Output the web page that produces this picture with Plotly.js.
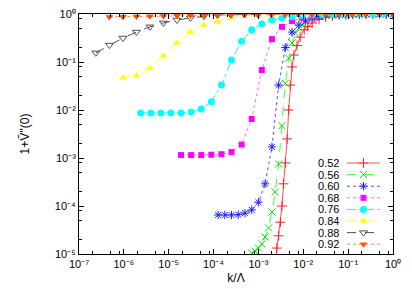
<!DOCTYPE html>
<html>
<head>
<meta charset="utf-8">
<script src="https://cdn.plot.ly/plotly-3.0.1.min.js"></script>
<style>html,body{margin:0;padding:0;background:#fff;}#chart{width:412px;height:289px;}</style>
</head>
<body>
<div id="chart"></div>
<script>
// ---- data ----
const k_052 = [2.34e-3, 2.57e-3, 2.82e-3, 3.09e-3, 3.35e-3, 3.63e-3, 3.98e-3, 4.37e-3, 4.73e-3, 5.13e-3, 5.62e-3, 6.17e-3, 7.24e-3, 8.51e-3, 1.05e-2, 1.26e-2, 1.58e-2, 2.24e-2, 3.16e-2, 4.47e-2, 6.31e-2, 8.91e-2, 0.126, 0.178, 0.251, 0.355, 0.501, 0.708, 1];
const v_052 = [6e-6, 1.33e-5, 2.4e-5, 4.6e-5, 1.0e-4, 2.9e-4, 7.9e-4, 2.5e-3, 0.010, 0.033, 0.079, 0.14, 0.22, 0.33, 0.47, 0.55, 0.65, 0.77, 0.86, 0.92, 0.955, 0.975, 0.985, 0.99, 0.995, 1, 1, 1, 1];

const k_056 = [7.08e-4, 8.41e-4, 1.0e-3, 1.19e-3, 1.41e-3, 1.68e-3, 2.0e-3, 2.37e-3, 2.82e-3, 3.35e-3, 3.98e-3, 4.73e-3, 5.62e-3, 6.68e-3, 7.94e-3, 9.44e-3, 1.12e-2, 1.58e-2, 2.24e-2, 3.16e-2, 4.47e-2, 6.31e-2, 8.91e-2, 0.126, 0.178, 0.251, 0.355, 0.501, 0.708, 1];
const v_056 = [1.05e-5, 1.15e-5, 1.33e-5, 1.62e-5, 2.25e-5, 3.5e-5, 7.5e-5, 1.95e-4, 7.5e-4, 4.7e-3, 0.036, 0.12, 0.25, 0.40, 0.51, 0.59, 0.68, 0.80, 0.88, 0.93, 0.96, 0.975, 0.985, 0.99, 0.995, 1, 1, 1, 1, 1];

const k_060 = [1.26e-4, 1.78e-4, 2.51e-4, 3.55e-4, 5.01e-4, 7.08e-4, 1.0e-3, 1.41e-3, 2.0e-3, 2.82e-3, 3.98e-3, 5.62e-3, 7.94e-3, 1.12e-2, 1.58e-2, 2.24e-2, 3.16e-2, 4.47e-2, 6.31e-2, 8.91e-2, 0.126, 0.178, 0.251, 0.355, 0.501, 0.708, 1];
const v_060 = [6.5e-5, 6.5e-5, 6.5e-5, 6.6e-5, 7.1e-5, 8.3e-5, 1.2e-4, 2.9e-4, 1.7e-3, 0.033, 0.20, 0.42, 0.59, 0.72, 0.82, 0.89, 0.93, 0.96, 0.975, 0.985, 0.99, 0.995, 1, 1, 1, 1, 1];

const k_068 = [1.88e-5, 3.16e-5, 5.31e-5, 8.91e-5, 1.50e-4, 2.51e-4, 4.22e-4, 7.08e-4, 1.19e-3, 2.0e-3, 3.35e-3, 5.62e-3, 9.44e-3, 1.58e-2, 2.66e-2, 4.47e-2, 7.5e-2, 0.126, 0.211, 0.355, 0.596, 1];
const v_068 = [1.15e-3, 1.15e-3, 1.15e-3, 1.17e-3, 1.2e-3, 1.33e-3, 1.9e-3, 6.5e-3, 0.068, 0.30, 0.54, 0.71, 0.83, 0.9, 0.95, 0.97, 0.985, 0.99, 0.995, 1, 1, 1];

const k_076 = [2.37e-6, 3.98e-6, 6.68e-6, 1.12e-5, 1.88e-5, 3.16e-5, 5.31e-5, 8.91e-5, 1.50e-4, 2.51e-4, 4.22e-4, 7.08e-4, 1.19e-3, 2.0e-3, 3.35e-3, 5.62e-3, 9.44e-3, 1.58e-2, 2.66e-2, 4.47e-2, 7.5e-2, 0.126, 0.211, 0.355, 0.596, 1];
const v_076 = [0.0087, 0.0087, 0.0087, 0.0087, 0.0087, 0.0091, 0.0105, 0.0148, 0.033, 0.11, 0.27, 0.47, 0.62, 0.75, 0.83, 0.88, 0.93, 0.96, 0.98, 0.99, 0.995, 1, 1, 1, 1, 1];

const k_084 = [9.54e-7, 1.91e-6, 3.81e-6, 7.63e-6, 1.53e-5, 3.05e-5, 6.10e-5, 1.22e-4, 2.44e-4, 4.88e-4, 9.77e-4, 1.95e-3, 3.91e-3, 7.81e-3, 1.56e-2, 3.13e-2, 6.25e-2, 0.125, 0.25, 0.5, 1];
const v_084 = [0.047, 0.052, 0.075, 0.133, 0.25, 0.42, 0.59, 0.68, 0.83, 0.9, 0.94, 0.97, 0.985, 0.99, 0.995, 1, 1, 1, 1, 1, 1];

const k_088 = [2.38e-7, 4.77e-7, 9.54e-7, 1.91e-6, 3.81e-6, 7.63e-6, 1.53e-5, 3.05e-5, 6.10e-5, 1.22e-4, 2.44e-4, 4.88e-4, 9.77e-4, 1.95e-3, 3.91e-3, 7.81e-3, 1.56e-2, 3.13e-2, 6.25e-2, 0.125, 0.25, 0.5, 1];
const v_088 = [0.155, 0.225, 0.316, 0.42, 0.54, 0.65, 0.75, 0.83, 0.9, 0.95, 0.97, 0.98, 0.99, 0.995, 1, 1, 1, 1, 1, 1, 1, 1, 1];

const k_092 = [4.77e-7, 9.54e-7, 1.91e-6, 3.81e-6, 7.63e-6, 1.53e-5, 3.05e-5, 6.10e-5, 1.22e-4, 2.44e-4, 4.88e-4, 9.77e-4, 1.95e-3, 3.91e-3, 7.81e-3, 1.56e-2, 3.13e-2, 6.25e-2, 0.125, 0.25, 0.5, 1];
const v_092 = [0.87, 0.88, 0.89, 0.9, 0.91, 0.92, 0.93, 0.94, 0.95, 0.96, 0.97, 0.98, 0.985, 0.99, 0.995, 1, 1, 1, 1, 1, 1, 1];

const seriesNames = ['0.52', '0.56', '0.60', '0.68', '0.76', '0.84', '0.88', '0.92'];

const xTickVals = [1e-7, 1e-6, 1e-5, 1e-4, 1e-3, 1e-2, 1e-1, 1];
const xTickText = ['10⁻⁷', '10⁻⁶', '10⁻⁵', '10⁻⁴', '10⁻³', '10⁻²', '10⁻¹', '10⁰'];
const yTickVals = [1e-5, 1e-4, 1e-3, 1e-2, 1e-1, 1];
const yTickText = ['10⁻⁵', '10⁻⁴', '10⁻³', '10⁻²', '10⁻¹', '10⁰'];
const minorMult = [2, 5, 8];

// ---- styling / layout constants ----
const FONT = 'Liberation Sans, Arial, Helvetica, sans-serif';
const W = 412, H = 289, ML = 79, MR = 19, MT = 14, MB = 35;
const PW = W - ML - MR, PH = H - MT - MB;
const LEG = {textRight: 341, lineX0: 347, lineX1: 380, top: 163, step: 11.6};
const px2x = p => (p - ML) / PW;
const px2y = p => (H - MB - p) / PH;

const styles = [
  {color: '#ff2020', lc: '#ff5050', dash: 'solid',   symbol: 'cross-thin-open',    size: 7, lw: 1},
  {color: '#00e000', lc: '#40ff40', dash: 'dash',    symbol: 'x-thin-open',        size: 7, lw: 1},
  {color: '#2020ff', lc: '#5050ff', dash: 'dot',     symbol: 'asterisk-open',      size: 7, lw: 1},
  {color: '#ff00ff', lc: '#ff60ff', dash: 'dot',     symbol: 'square',             size: 6, lw: 0},
  {color: '#00ffff', lc: '#40e0e0', dash: 'dashdot', symbol: 'circle',             size: 7, lw: 0},
  {color: '#ffff00', lc: '#ffff40', dash: 'dash',    symbol: 'triangle-up',        size: 7, lw: 0},
  {color: '#505050', lc: '#505050', dash: 'dash',    symbol: 'triangle-down-open', size: 7, lw: 1},
  {color: '#ff5000', lc: '#ff8050', dash: 'dot',     symbol: 'triangle-down',      size: 7, lw: 0}
];
const xs = [k_052, k_056, k_060, k_068, k_076, k_084, k_088, k_092];
const ys = [v_052, v_056, v_060, v_068, v_076, v_084, v_088, v_092];

const traces = xs.map((x, i) => {
  const s = styles[i];
  return {
    x: x, y: ys[i], name: seriesNames[i], type: 'scatter', mode: 'lines+markers',
    showlegend: false,
    line: {color: s.lc, width: 1, dash: s.dash},
    marker: {symbol: s.symbol, size: s.size, color: s.color, line: {color: s.color, width: s.lw}}
  };
});

// key (legend) drawn gnuplot-style: label, then line sample with marker
const shapes = [], annotations = [];
styles.forEach((s, i) => {
  const yy = px2y(LEG.top + i * LEG.step);
  shapes.push({type: 'line', xref: 'paper', yref: 'paper',
    x0: px2x(LEG.lineX0), x1: px2x(LEG.lineX1), y0: yy, y1: yy,
    line: {color: s.lc, width: 1, dash: s.dash}});
  annotations.push({xref: 'paper', yref: 'paper', x: px2x(LEG.textRight), y: yy,
    xanchor: 'right', yanchor: 'middle', showarrow: false, text: seriesNames[i],
    font: {family: FONT, size: 11, color: '#000'}});
  traces.push({x: [px2x((LEG.lineX0 + LEG.lineX1) / 2)], y: [yy], xaxis: 'x2', yaxis: 'y2',
    type: 'scatter', mode: 'markers', showlegend: false, hoverinfo: 'skip',
    marker: {symbol: s.symbol, size: s.size, color: s.color, line: {color: s.color, width: s.lw}}});
});

function minorVals(lo, hi) {
  const out = [];
  for (let e = lo; e < hi; e++) minorMult.forEach(m => out.push(m * Math.pow(10, e)));
  return out;
}

const axisCommon = {
  type: 'log', showgrid: false, zeroline: false, showline: true,
  linecolor: '#000', linewidth: 1, mirror: 'allticks',
  ticks: 'inside', ticklen: 5, tickcolor: '#000', tickwidth: 1,
  tickmode: 'array', tickfont: {family: FONT, size: 11, color: '#000'}
};

const layout = {
  width: W, height: H,
  margin: {l: ML, r: MR, t: MT, b: MB},
  paper_bgcolor: '#fff', plot_bgcolor: '#fff',
  font: {family: FONT, size: 11, color: '#000'},
  showlegend: false,
  xaxis: Object.assign({}, axisCommon, {
    range: [-7, 0], tickvals: xTickVals, ticktext: xTickText,
    minor: {tickmode: 'array', tickvals: minorVals(-7, 0), ticks: 'inside', ticklen: 3, tickcolor: '#000', showgrid: false},
    title: {text: 'k/Λ', font: {family: FONT, size: 12, color: '#000'}, standoff: 4}
  }),
  yaxis: Object.assign({}, axisCommon, {
    range: [-5, 0], tickvals: yTickVals, ticktext: yTickText,
    minor: {tickmode: 'array', tickvals: minorVals(-5, 0), ticks: 'inside', ticklen: 3, tickcolor: '#000', showgrid: false},
    title: {text: '1+Ṽ\'\'(0)', font: {family: FONT, size: 12, color: '#000'}, standoff: 22}
  }),
  xaxis2: {overlaying: 'x', anchor: 'y2', range: [0, 1], visible: false, fixedrange: true},
  yaxis2: {overlaying: 'y', anchor: 'x2', range: [0, 1], visible: false, fixedrange: true},
  shapes: shapes,
  annotations: annotations
};

Plotly.newPlot('chart', traces, layout, {displayModeBar: false, staticPlot: true});
</script>
</body>
</html>
